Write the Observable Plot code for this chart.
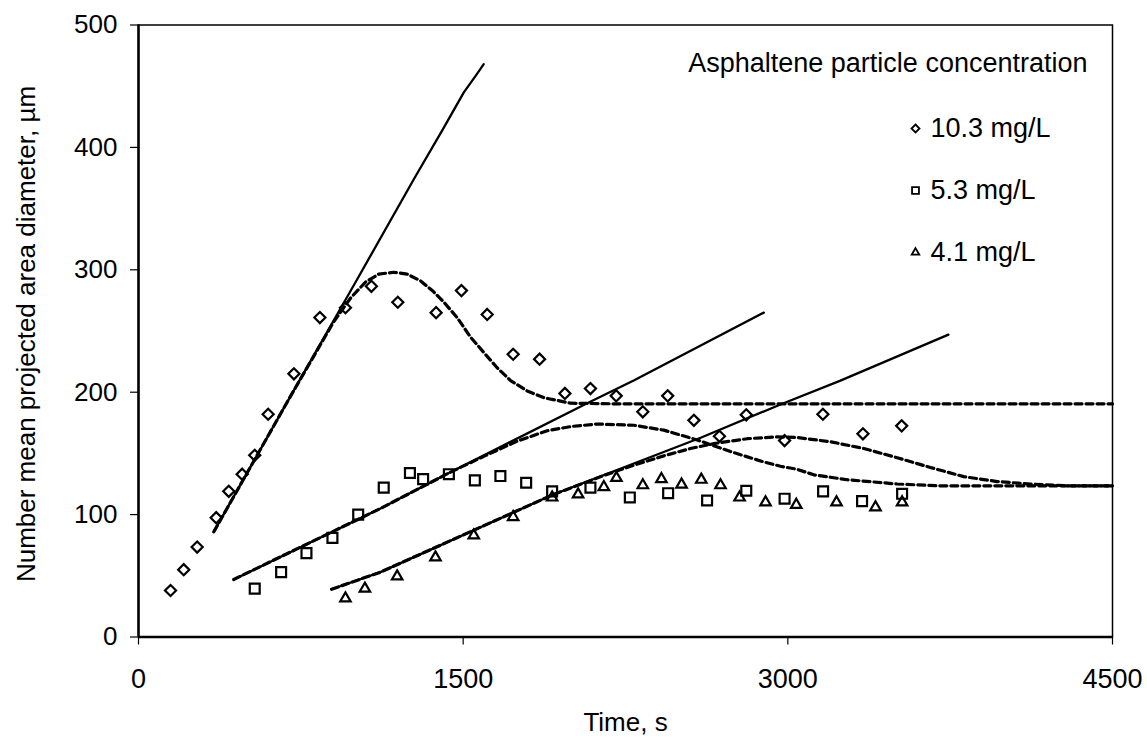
<!DOCTYPE html>
<html><head><meta charset="utf-8">
<script src="https://cdn.jsdelivr.net/npm/d3@7"></script>
<script src="https://cdn.jsdelivr.net/npm/@observablehq/plot@0.6"></script>
<style>
body{margin:0;background:#fff;}
#chart svg{font-family:"Liberation Sans",Arial,Helvetica,sans-serif;background:#fff;}
</style></head><body><div id="chart"></div>
<script>
// ---- axis ticks & labels ----
const xTicks = [0, 1500, 3000, 4500];
const yTicks = [0, 100, 200, 300, 400, 500];
const xTitle = "Time, s";
const yTitle = "Number mean projected area diameter, µm";
const legendTitle = "Asphaltene particle concentration";
const seriesNames = ["10.3 mg/L", "5.3 mg/L", "4.1 mg/L"];
const seriesSymbols = ["diamond2", "square2", "triangle2"];

// ---- measured points [time s, diameter µm] ----
const obs103 = [[148,38],[209,55],[271,73.5],[359,97.5],[417,119],[479,133],[537,148.5],[599,182],[718,215],[838,261],[956,269],[1076,286.5],[1198,273.5],[1375,265],[1492,283],[1611,263.5],[1731,231],[1853,227],[1970,199],[2088,203],[2207,197],[2330,184],[2445,197],[2566,177],[2684,164],[2808,181.5],[2985,160.5],[3162,182],[3347,166],[3526,172.5]];
const obs53 = [[537,39.5],[659,53],[776,68.5],[896,81],[1015,100],[1133,122],[1254,134],[1315,129],[1434,133],[1554,128],[1672,131.5],[1791,126],[1911,119],[2088,122],[2270,114],[2447,117.5],[2627,111.5],[2808,119.5],[2985,113],[3163,119],[3343,111],[3528,117]];
const obs41 = [[956,31.5],[1046,39.5],[1195,49.5],[1372,65],[1549,83],[1731,98],[1911,114],[2031,116.5],[2150,122.5],[2208,130],[2330,124],[2416,129],[2509,124.5],[2600,128.5],[2689,124],[2777,114],[2897,110],[3039,108],[3225,110],[3405,106],[3528,110]];

// ---- model curves (solid: growth only; dashed: growth + breakup) ----
const solid103 = [[348,86],[700,196],[1000,289],[1272,374],[1410,416],[1503,445],[1560,459],[1595,468]];
const dashed103 = [[348,86],[700,196],[900,257],[980,277],[1049,290],[1110,296.5],[1180,298],[1241,296.5],[1303,291],[1364,282],[1411,273.5],[1472,261],[1534,245],[1595,232.5],[1657,220],[1719,209.5],[1796,201],[1873,195.5],[1996,191],[2200,190.5],[4500,190.5]];
const solid53 = [[440,47],[1118,105],[1434,134],[2073,191],[2288,209.5],[2889,265]];
const dashed53 = [[440,47],[1118,105],[1434,134],[1600,148],[1750,160],[1888,168.5],[2000,172],[2119,174],[2288,173],[2427,169],[2581,161],[2735,151.5],[2889,143],[2966,139.5],[3043,137],[3120,132.5],[3274,128.5],[3505,125],[3700,123.5],[4500,123.5]];
const solid41 = [[892,39],[1118,53],[1911,116],[2600,163],[2966,190],[3243,209.5],[3742,247]];
const dashed41 = [[892,39],[1118,53],[1911,116],[2150,132],[2300,141],[2427,148],[2550,154],[2658,158],[2812,162],[2950,163.5],[3043,163],[3197,159.5],[3351,154],[3505,146.5],[3659,138.5],[3813,131],[3967,127],[4121,125],[4300,123.5],[4500,123.5]];

// ---- build tables ----
const toRows = (arr, s) => arr.map(([t, d]) => ({t, d, s}));
const solidRows = [solid103, solid53, solid41].flatMap((a, i) => toRows(a, seriesNames[i]));
const dashedRows = [dashed103, dashed53, dashed41].flatMap((a, i) => toRows(a, seriesNames[i]));
const obsSets = [obs103, obs53, obs41];
const markerR = [5, 6.3, 5];
const legendR = [3.6, 4.4, 3.6];

const W = 1147, H = 746;
const marks = [
  Plot.frame({stroke: "black", strokeWidth: 1.5}),
  Plot.ruleY([0], {stroke: "black", strokeWidth: 2.5}),
  Plot.ruleX([0], {stroke: "black", strokeWidth: 2.5}),
  Plot.axisY(yTicks, {tickSize: 8, tickPadding: 13, fontSize: 26, label: null, strokeWidth: 1.2}),
  Plot.axisX(xTicks, {tickSize: 8, tickPadding: 24, fontSize: 27, label: null, tickFormat: d => String(d), strokeWidth: 1.2}),
  Plot.line(solidRows, {x: "t", y: "d", z: "s", stroke: "black", strokeWidth: 2.3}),
  Plot.line(dashedRows, {x: "t", y: "d", z: "s", stroke: "black", strokeWidth: 3.2, strokeDasharray: "7,4"}),
  ...obsSets.map((a, i) => Plot.dot(toRows(a, seriesNames[i]), {x: "t", y: "d", symbol: seriesSymbols[i], r: markerR[i], stroke: "black", strokeWidth: 2.2, fill: "none"})),
  // axis titles
  Plot.text([xTitle], {frameAnchor: "bottom", dy: 86, textAnchor: "middle", lineAnchor: "middle", fontSize: 26, fill: "black"}),
  Plot.text([yTitle], {frameAnchor: "left", dx: -112, dy: 3, rotate: -90, textAnchor: "middle", lineAnchor: "middle", fontSize: 26, fill: "black"}),
  // legend
  Plot.text([legendTitle], {frameAnchor: "top-right", dx: -25, dy: 38.5, textAnchor: "end", lineAnchor: "middle", fontSize: 27, fill: "black"}),
  ...seriesNames.map((name, i) => Plot.dot([name], {frameAnchor: "top-right", dx: -197, dy: 103.5 + i * 62, symbol: seriesSymbols[i], r: legendR[i], stroke: "black", strokeWidth: 1.8, fill: "none"})),
  ...seriesNames.map((name, i) => Plot.text([name], {frameAnchor: "top-right", dx: -182, dy: 103.5 + i * 62, textAnchor: "start", lineAnchor: "middle", fontSize: 27, fill: "black"}))
];

const chart = Plot.plot({
  width: W, height: H,
  marginLeft: 138, marginRight: 35, marginTop: 24.5, marginBottom: 109.5,
  x: {domain: [0, 4500]},
  y: {domain: [0, 500]},
  style: {fontSize: "25px", color: "black", background: "white"},
  marks
});
document.getElementById("chart").appendChild(chart);
</script></body></html>
